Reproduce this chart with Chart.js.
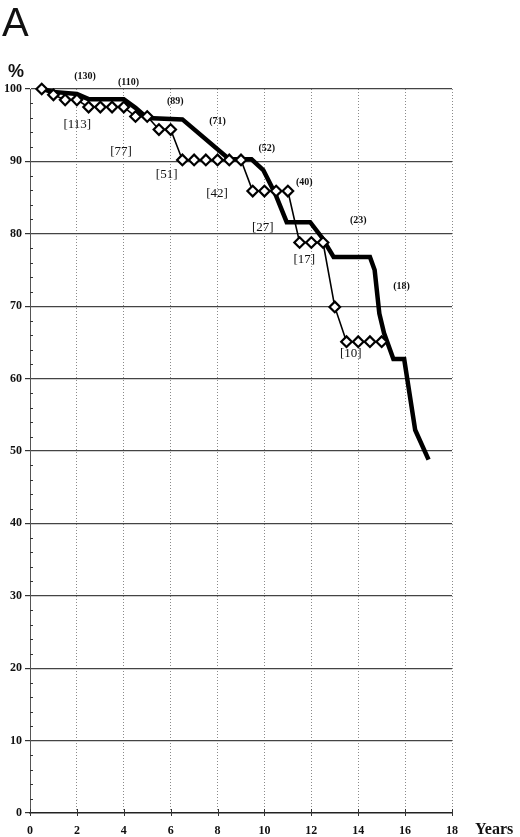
<!DOCTYPE html>
<html>
<head>
<meta charset="utf-8">
<script src="https://cdn.jsdelivr.net/npm/chart.js@4.4.0/dist/chart.umd.min.js"></script>
<style>
  body { margin: 0; background: #fff; }
  #wrap { position: relative; width: 520px; height: 837px; }
</style>
</head>
<body>
<div id="wrap">
  <canvas id="myChart" width="520" height="837"></canvas>
</div>
<script>
// survival curve, thick line (years, %)
const thickYears = [0.5, 1, 2, 2.5, 4, 4.5, 5, 6.5, 8.5, 9.45, 9.95, 10.45, 10.95, 11.95, 12.45, 12.95, 14.5, 14.7, 14.9, 15.1, 15.5, 15.96, 16.43, 17];
const thickValues = [100, 99.6, 99.3, 98.6, 98.6, 97.4, 96, 95.8, 90.3, 90.3, 88.8, 85.6, 81.6, 81.6, 79.5, 76.8, 76.8, 75, 69, 66.3, 62.7, 62.7, 52.9, 48.8];

// survival curve with diamond markers
const markerYears = [0.5, 1, 1.5, 2, 2.5, 3, 3.5, 4, 4.5, 5, 5.5, 6, 6.5, 7, 7.5, 8, 8.5, 9, 9.5, 10, 10.5, 11, 11.5, 12, 12.5, 13, 13.5, 14, 14.5, 15];
const markerValues = [100, 99.2, 98.5, 98.5, 97.5, 97.5, 97.5, 97.5, 96.2, 96.2, 94.4, 94.4, 90.2, 90.2, 90.2, 90.2, 90.2, 90.2, 85.9, 85.9, 85.9, 85.9, 78.8, 78.8, 78.8, 69.9, 65.1, 65.1, 65.1, 65.1];

// numbers at risk: (thick curve) and [marker curve]
const riskThickText = ['(130)', '(110)', '(89)', '(71)', '(52)', '(40)', '(23)', '(18)'];
const riskThickX = [2.35, 4.2, 6.2, 8.0, 10.1, 11.7, 14.0, 15.85];
const riskThickY = [101.7, 100.9, 98.3, 95.5, 91.8, 87.1, 81.8, 72.7];
const riskMarkerText = ['[113]', '[77]', '[51]', '[42]', '[27]', '[17]', '[10]'];
const riskMarkerX = [2.02, 3.88, 5.83, 7.98, 9.93, 11.7, 13.68];
const riskMarkerY = [95.1, 91.3, 88.2, 85.6, 80.9, 76.5, 63.5];

const xTicks = [0, 2, 4, 6, 8, 10, 12, 14, 16, 18];
const yTicks = [0, 10, 20, 30, 40, 50, 60, 70, 80, 90, 100];

const serif = '"Liberation Serif", "DejaVu Serif", serif';

const extras = {
  id: 'extras',
  beforeDatasetsDraw(chart) {
    const { ctx, scales: { x, y } } = chart;
    ctx.save();
    // minor ticks on the y axis every 2 %
    ctx.strokeStyle = '#333';
    ctx.lineWidth = 1;
    const x0 = x.getPixelForValue(0);
    for (let v = 2; v < 100; v += 2) {
      if (v % 10 === 0) continue;
      const py = Math.round(y.getPixelForValue(v)) + 0.5;
      ctx.beginPath();
      ctx.moveTo(x0, py);
      ctx.lineTo(x0 + 3, py);
      ctx.stroke();
    }
    // x tick marks crossing the axis
    const y0 = y.getPixelForValue(0);
    xTicks.forEach(t => {
      const px = Math.round(x.getPixelForValue(t)) + 0.5;
      ctx.beginPath();
      ctx.moveTo(px, y0 - 4);
      ctx.lineTo(px, y0 + 3);
      ctx.stroke();
    });
    ctx.restore();
  },
  afterDatasetsDraw(chart) {
    const { ctx, scales: { x, y } } = chart;
    ctx.save();
    ctx.fillStyle = '#111';
    ctx.textAlign = 'center';
    ctx.textBaseline = 'middle';
    ctx.font = 'bold 10px ' + serif;
    riskThickText.forEach((t, i) => {
      ctx.fillText(t, x.getPixelForValue(riskThickX[i]), y.getPixelForValue(riskThickY[i]));
    });
    ctx.font = '13px ' + serif;
    riskMarkerText.forEach((t, i) => {
      ctx.fillText(t, x.getPixelForValue(riskMarkerX[i]), y.getPixelForValue(riskMarkerY[i]));
    });
    // axis names and panel letter
    ctx.font = 'bold 16px ' + serif;
    ctx.textAlign = 'left';
    ctx.fillText('Years', 475, 830);
    ctx.font = 'bold 18px "Liberation Sans", Arial, sans-serif';
    ctx.fillText('%', 8, 72);
    ctx.font = '40px "Liberation Sans", Arial, sans-serif';
    ctx.fillText('A', 2, 25);
    ctx.restore();
  }
};

const ctx = document.getElementById('myChart').getContext('2d');
new Chart(ctx, {
  type: 'line',
  data: {
    datasets: [
      {
        label: 'thick',
        data: thickYears.map((t, i) => ({ x: t, y: thickValues[i] })),
        borderColor: '#000',
        borderWidth: 4.5,
        pointRadius: 0,
        tension: 0,
        clip: false,
        order: 1
      },
      {
        label: 'markers',
        data: markerYears.map((t, i) => ({ x: t, y: markerValues[i] })),
        borderColor: '#000',
        borderWidth: 1.6,
        pointStyle: 'rectRot',
        pointRadius: 5.3,
        pointBorderWidth: 2.2,
        pointBackgroundColor: '#fff',
        pointBorderColor: '#000',
        tension: 0,
        clip: false,
        order: 0
      }
    ]
  },
  options: {
    responsive: false,
    animation: false,
    layout: { padding: { top: 89, right: 68, left: 0, bottom: 0 } },
    plugins: {
      legend: { display: false },
      tooltip: { enabled: false }
    },
    scales: {
      x: {
        type: 'linear',
        min: 0,
        max: 18,
        afterBuildTicks: s => { s.ticks = xTicks.map(v => ({ value: v })); },
        afterFit: s => { s.height = 24; },
        grid: {
          color: c => (c.tick.value === 0 ? 'rgba(0,0,0,0)' : '#8a8a8a'),
          lineWidth: 1,
          drawTicks: false
        },
        border: { display: true, color: '#222', width: 1.5, dash: [1, 2] },
        ticks: {
          color: '#111',
          padding: 11,
          font: { family: serif, weight: 'bold', size: 12 }
        }
      },
      y: {
        type: 'linear',
        min: 0,
        max: 100,
        afterBuildTicks: s => { s.ticks = yTicks.map(v => ({ value: v })); },
        afterFit: s => { s.width = 30; },
        grid: {
          color: c => (c.tick.value === 0 ? 'rgba(0,0,0,0)' : '#444'),
          lineWidth: 1.2,
          tickColor: '#333',
          tickLength: 5
        },
        border: { display: true, color: '#555', width: 1 },
        ticks: {
          color: '#111',
          padding: 3,
          font: { family: serif, weight: 'bold', size: 12 }
        }
      }
    }
  },
  plugins: [extras]
});
</script>
</body>
</html>
